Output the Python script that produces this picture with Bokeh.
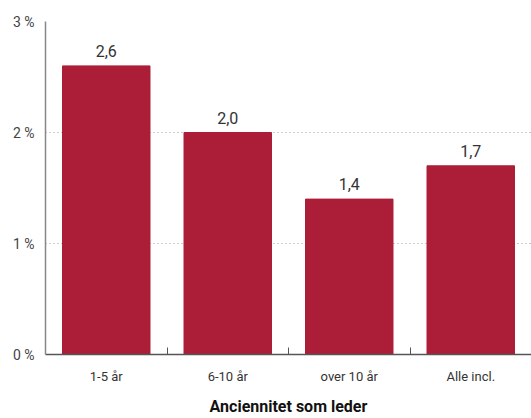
from bokeh.plotting import figure
from bokeh.models import Range1d, FixedTicker, ColumnDataSource, LabelSet
from bokeh.core.properties import value
from bokeh.embed import file_html
from bokeh.resources import INLINE

categories = ["1-5 år", "6-10 år", "over 10 år", "Alle incl."]
values = [2.6, 2.0, 1.4, 1.7]
value_labels = ["2,6", "2,0", "1,4", "1,7"]
y_ticks = [0, 1, 2, 3]
y_tick_labels = ["0 %", "1 %", "2 %", "3 %"]
x_title = "Anciennitet som leder"

FONT = "Roboto"
BAR = "#AC1E38"

xs = [i + 0.5 for i in range(len(categories))]
src = ColumnDataSource(dict(x=xs, top=values, lab=value_labels))

p = figure(width=531, height=418, output_backend="svg", toolbar_location=None,
           x_range=Range1d(0, len(categories)), y_range=Range1d(0, 3),
           min_border_left=45, min_border_right=0, min_border_top=21, min_border_bottom=64)
p.outline_line_color = None
p.background_fill_color = "white"
p.border_fill_color = "white"

p.vbar(x="x", top="top", bottom=0, width=0.72, source=src, color=BAR)

labels = LabelSet(x="x", y="top", text="lab", source=src, text_align="center",
                  text_baseline="bottom", y_offset=9, text_font=value(FONT),
                  text_font_size="16px", text_color="#333333")
p.add_layout(labels)

# x axis
p.xaxis.ticker = FixedTicker(ticks=xs, minor_ticks=[1, 2, 3])
p.xaxis.major_label_overrides = {x: c for x, c in zip(xs, categories)}
p.xaxis.major_tick_in = 0
p.xaxis.major_tick_out = 0
p.xaxis.minor_tick_in = 7
p.xaxis.minor_tick_out = 0
p.xaxis.minor_tick_line_color = "#555555"
p.xaxis.minor_tick_line_width = 1
p.xaxis.axis_line_color = "#555555"
p.xaxis.axis_line_width = 1.5
p.xaxis.major_label_standoff = 14
p.xaxis.major_label_text_font = FONT
p.xaxis.major_label_text_font_size = "13px"
p.xaxis.major_label_text_color = "#333333"
p.xaxis.axis_label = x_title
p.xaxis.axis_label_standoff = 10
p.xaxis.axis_label_text_font = FONT
p.xaxis.axis_label_text_font_size = "16px"
p.xaxis.axis_label_text_font_style = "bold"
p.xaxis.axis_label_text_color = "#111111"

# y axis
p.yaxis.ticker = FixedTicker(ticks=y_ticks, minor_ticks=[])
p.yaxis.major_label_overrides = {t: l for t, l in zip(y_ticks, y_tick_labels)}
p.yaxis.major_tick_in = 0
p.yaxis.major_tick_out = 0
p.yaxis.axis_line_color = "#888888"
p.yaxis.axis_line_width = 1.5
p.yaxis.major_label_standoff = 11
p.yaxis.major_label_text_font = FONT
p.yaxis.major_label_text_font_size = "14px"
p.yaxis.major_label_text_color = "#444444"

p.xgrid.grid_line_color = None
p.ygrid.grid_line_color = "#999999"
p.ygrid.grid_line_dash = "1 3"
p.ygrid.grid_line_width = 1

open("out.html", "w").write(file_html(p, INLINE))
